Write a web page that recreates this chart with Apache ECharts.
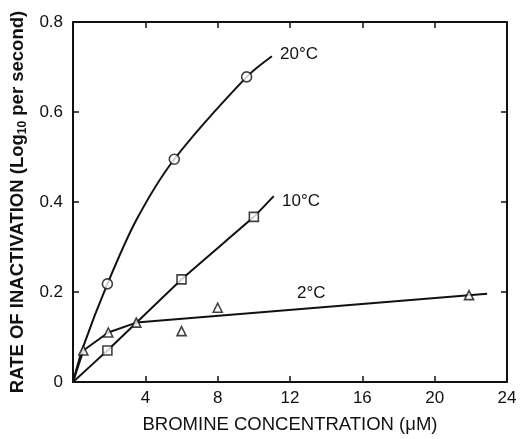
<!DOCTYPE html>
<html>
<head>
<meta charset="utf-8">
<script src="https://cdn.jsdelivr.net/npm/echarts@6/dist/echarts.min.js"></script>
<style>
  html, body { margin: 0; padding: 0; background: #fff; }
  #chart { width: 527px; height: 439px; }
</style>
</head>
<body>
<div id="chart"></div>
<script>
// measured points (bromine µM, log10 inactivation per second)
const conc20 = [1.9, 5.6, 9.6];
const rate20 = [0.218, 0.495, 0.678];
const conc10 = [1.9, 6.0, 10.0];
const rate10 = [0.07, 0.228, 0.367];
const conc2 = [0.57, 1.95, 3.5, 6.0, 8.0, 21.9];
const rate2 = [0.07, 0.11, 0.132, 0.113, 0.165, 0.193];

// hand-drawn curves through the points
const fit20x = [0, 0.57, 1.9, 3.5, 5.6, 9.6, 11.0];
const fit20y = [0, 0.079, 0.218, 0.36, 0.495, 0.678, 0.724];
const fit10x = [0, 1.9, 6.0, 10.0, 11.1];
const fit10y = [0, 0.07, 0.228, 0.367, 0.413];
const fit2x = [0, 0.57, 1.95, 3.5, 22.9];
const fit2y = [0, 0.07, 0.11, 0.132, 0.196];

const xTicks = [0, 4, 8, 12, 16, 20, 24];
const yTicks = [0, 0.2, 0.4, 0.6, 0.8];

const zip = (a, b) => a.map((v, i) => [v, b[i]]);
const font = "Liberation Sans";
const ink = "#111";

const chart = echarts.init(document.getElementById("chart"));

const axisCommon = {
  axisLine: { show: true, onZero: false, lineStyle: { color: ink, width: 2 } },
  axisTick: { show: true, inside: true, length: 6, lineStyle: { color: ink, width: 1.5 } },
  splitLine: { show: false }
};

function fitLine(x, y, smooth) {
  return {
    type: "line",
    data: zip(x, y),
    showSymbol: false,
    smooth: smooth,
    lineStyle: { color: ink, width: 2 },
    silent: true,
    z: 2
  };
}

function points(x, y, symbol, size) {
  return {
    type: "scatter",
    data: zip(x, y),
    symbol: symbol,
    symbolSize: size,
    itemStyle: { color: "#fff", borderColor: ink, borderWidth: 1.6 },
    z: 3
  };
}

chart.setOption({
  animation: false,
  backgroundColor: "#fff",
  grid: { left: 73, right: 20, top: 22, bottom: 53 },
  xAxis: [
    {
      ...axisCommon,
      type: "value",
      min: xTicks[0],
      max: xTicks[xTicks.length - 1],
      interval: 4,
      position: "bottom",
      axisLabel: {
        color: ink, fontFamily: font, fontSize: 17, margin: 8,
        formatter: v => (v === 0 ? "" : v)
      },
      name: "BROMINE CONCENTRATION (\u03bcM)",
      nameLocation: "middle",
      nameGap: 33,
      nameTextStyle: { color: ink, fontFamily: font, fontSize: 18.5 }
    },
    {
      ...axisCommon,
      type: "value",
      min: xTicks[0],
      max: xTicks[xTicks.length - 1],
      interval: 4,
      position: "top",
      axisLabel: { show: false }
    }
  ],
  yAxis: [
    {
      ...axisCommon,
      type: "value",
      min: yTicks[0],
      max: yTicks[yTicks.length - 1],
      interval: 0.2,
      position: "left",
      axisLabel: {
        color: ink, fontFamily: font, fontSize: 17, margin: 10,
        formatter: v => (v === 0 ? "0" : v.toFixed(1))
      },
      name: "RATE OF INACTIVATION (Log{sub|10} per second)",
      nameLocation: "middle",
      nameGap: 44,
      nameTextStyle: {
        color: ink, fontFamily: font, fontSize: 18.5, fontWeight: "bold",
        rich: {
          sub: { fontFamily: font, fontSize: 12, fontWeight: "bold", color: ink, padding: [10, 0, 0, 0] }
        }
      }
    },
    {
      ...axisCommon,
      type: "value",
      min: yTicks[0],
      max: yTicks[yTicks.length - 1],
      interval: 0.2,
      position: "right",
      axisLabel: { show: false }
    }
  ],
  series: [
    fitLine(fit20x, fit20y, 0.3),
    fitLine(fit10x, fit10y, 0.1),
    fitLine(fit2x, fit2y, false),
    points(conc20, rate20, "circle", 10),
    points(conc10, rate10, "rect", 9),
    points(conc2, rate2, "triangle", 9)
  ],
  graphic: [
    { type: "text", left: 280, top: 46, style: { text: "20°C", font: "17px " + font, fill: ink } },
    { type: "text", left: 282, top: 193, style: { text: "10°C", font: "17px " + font, fill: ink } },
    { type: "text", left: 297, top: 285, style: { text: "2°C", font: "17px " + font, fill: ink } }
  ]
});
</script>
</body>
</html>
